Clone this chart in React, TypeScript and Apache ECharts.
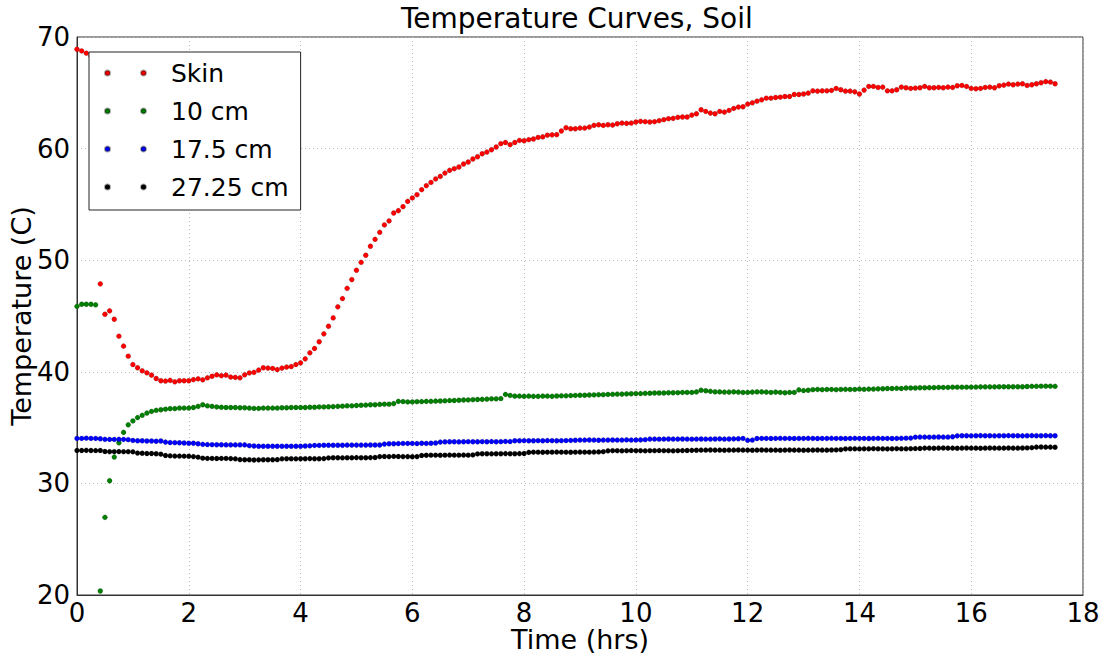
import React, { useEffect, useRef } from "react";
import * as echarts from "echarts";

// Sampling: one reading every 5 minutes, starting at t = 0 h
const START_HRS = 0;
const STEP_HRS = 5 / 60;

const seriesNames = ["Skin", "10 cm", "17.5 cm", "27.25 cm"];
const seriesColors = ["#ff0000", "#008000", "#0000ff", "#000000"];

const xTicks = [0, 2, 4, 6, 8, 10, 12, 14, 16, 18];
const yTicks = [20, 30, 40, 50, 60, 70];

const skin = [
  68.9, 68.75, 68.55, 68.3, 68.1,
  47.88, 45.16, 45.46, 44.71, 43.19, 42.3, 41.4, 40.65, 40.36, 40.09,
  39.91, 39.7, 39.4, 39.2, 39.17, 39.23, 39.1, 39.2, 39.2, 39.2,
  39.3, 39.37, 39.28, 39.46, 39.6, 39.73, 39.65, 39.7, 39.53, 39.5,
  39.46, 39.73, 39.9, 39.95, 40.15, 40.36, 40.33, 40.3, 40.2, 40.33,
  40.42, 40.47, 40.65,
  40.8, 41.16, 41.7, 42.09, 42.69, 43.4, 44.08, 44.83, 45.82, 46.56,
  47.48, 48.26, 49.1, 49.81, 50.44, 51.25, 51.87, 52.5, 53.16, 53.52,
  54.23, 54.44, 54.8, 55.27, 55.58, 55.87, 56.32, 56.68, 56.97, 57.28,
  57.51, 57.81, 58.05, 58.2, 58.35, 58.62, 58.8, 59.07, 59.27, 59.54,
  59.69, 59.9, 60.14, 60.44, 60.55, 60.35, 60.55, 60.73, 60.7, 60.8,
  60.86, 61.0,
  61.05, 61.2, 61.23, 61.25, 61.58, 61.87, 61.78, 61.78, 61.84, 61.84,
  61.93, 62.08, 62.14, 62.08, 62.14, 62.11, 62.23, 62.29, 62.26, 62.29,
  62.38, 62.44, 62.41, 62.38, 62.41, 62.5, 62.59, 62.68, 62.71, 62.8,
  62.83, 62.83, 63.0, 63.12, 63.48, 63.33, 63.18, 63.12, 63.33, 63.27,
  63.42, 63.6, 63.72, 63.75, 63.99, 64.1, 64.25, 64.37, 64.52, 64.52,
  64.58, 64.61, 64.67, 64.67, 64.85, 64.85,
  64.89, 64.97, 65.18, 65.15, 65.18, 65.18, 65.21, 65.39, 65.27, 65.15,
  65.15, 65.09, 64.89, 65.24, 65.57, 65.57, 65.48, 65.51, 65.18, 65.18,
  65.27, 65.51, 65.45, 65.39, 65.42, 65.45, 65.57, 65.45, 65.45, 65.48,
  65.45, 65.51, 65.48, 65.63, 65.66, 65.57, 65.39, 65.36, 65.39, 65.48,
  65.51, 65.45, 65.63, 65.69, 65.78, 65.72, 65.78, 65.81, 65.66, 65.72,
  65.81, 65.9, 66.0, 65.96, 65.81,
];

const cm10 = [
  45.87, 46.05, 46.05, 46.05, 46.0, 20.36, 26.96, 30.24, 32.36, 33.64,
  34.57, 35.25, 35.6, 35.9, 36.1, 36.3, 36.45, 36.55, 36.6, 36.65,
  36.7, 36.7, 36.75, 36.75, 36.75, 36.8, 36.9, 37.05, 36.95, 36.9,
  36.85, 36.82, 36.8, 36.8, 36.8, 36.78, 36.78, 36.75, 36.72, 36.72,
  36.75, 36.75, 36.75, 36.75, 36.78, 36.78, 36.8, 36.8,
  36.8, 36.8, 36.82, 36.82, 36.85, 36.85, 36.87, 36.88, 36.9, 36.92,
  36.95, 36.95, 36.98, 37.0, 37.02, 37.05, 37.05, 37.08, 37.1, 37.1,
  37.15, 37.35, 37.33, 37.3,
  37.3, 37.32, 37.33, 37.35, 37.35, 37.37, 37.38, 37.4, 37.42, 37.43,
  37.45, 37.47, 37.48, 37.5, 37.52, 37.53, 37.55, 37.58, 37.58,
  37.6, 37.97, 37.88, 37.82,
  37.82, 37.8, 37.82, 37.8, 37.8, 37.82, 37.82, 37.8, 37.83, 37.85,
  37.85, 37.87, 37.88, 37.9, 37.9, 37.92, 37.93, 37.95, 37.95, 37.97,
  37.98, 38.0, 38.0, 38.02, 38.03, 38.05, 38.05, 38.07, 38.08, 38.1,
  38.1, 38.1, 38.12, 38.12, 38.13, 38.15, 38.15, 38.15, 38.2,
  38.35, 38.3, 38.25, 38.2, 38.2, 38.18, 38.18, 38.2,
  38.18, 38.15, 38.15, 38.18, 38.2, 38.2, 38.18, 38.15, 38.18, 38.15,
  38.12, 38.15, 38.15, 38.38, 38.32, 38.35,
  38.4, 38.42, 38.4, 38.42, 38.42, 38.4, 38.42, 38.43, 38.42, 38.42,
  38.45, 38.43, 38.45, 38.45, 38.47, 38.48, 38.5, 38.5, 38.52, 38.5,
  38.55, 38.55, 38.55, 38.57, 38.57, 38.58, 38.58, 38.6, 38.6, 38.6,
  38.62, 38.62, 38.62, 38.62, 38.63, 38.63, 38.65, 38.65, 38.65, 38.65,
  38.66, 38.66, 38.66, 38.66, 38.66, 38.66,
  38.68, 38.7, 38.7, 38.71, 38.71, 38.71, 38.7,
];

const cm175 = [
  34.03, 34.03, 34.05, 34.03, 34.03, 34.0,
  33.95, 33.94, 33.94, 33.95, 33.94, 33.92,
  33.85, 33.82, 33.82, 33.8, 33.8, 33.78, 33.8,
  33.7, 33.66, 33.65, 33.64, 33.62, 33.6, 33.6,
  33.55, 33.5, 33.48, 33.47, 33.46, 33.46, 33.45, 33.45, 33.45, 33.45, 33.45,
  33.38, 33.35, 33.33, 33.33, 33.33, 33.33, 33.33, 33.33, 33.33, 33.33, 33.33, 33.33,
  33.35, 33.37, 33.4, 33.4, 33.42, 33.42, 33.42, 33.42, 33.42, 33.43, 33.43, 33.43,
  33.43, 33.43, 33.44, 33.44, 33.44,
  33.52, 33.55, 33.55, 33.57, 33.58, 33.58,
  33.58, 33.57, 33.6, 33.58, 33.6, 33.62,
  33.7, 33.72, 33.73, 33.73, 33.72, 33.73, 33.74, 33.73, 33.73, 33.74,
  33.73, 33.75, 33.73, 33.74, 33.76, 33.75,
  33.82, 33.82, 33.83, 33.82, 33.82, 33.83, 33.82, 33.84, 33.83, 33.82,
  33.83, 33.84, 33.85,
  33.87, 33.88, 33.88, 33.89, 33.88, 33.87, 33.88, 33.88, 33.89, 33.88,
  33.88, 33.9, 33.88, 33.89, 33.9, 33.92,
  33.97, 33.97, 33.96, 33.97, 33.98, 33.97, 33.97, 33.98, 33.97, 33.96,
  33.97, 33.98, 33.97, 33.97, 33.98, 33.99, 33.97, 33.98, 33.99, 34.0,
  34.03, 33.86, 33.88,
  34.02, 34.03, 34.03, 34.02, 34.03, 34.04, 34.03, 34.03, 34.02, 34.03,
  34.03, 34.04, 34.03, 34.02, 34.03, 34.03, 34.04, 34.03, 34.03, 34.02,
  34.03, 34.04, 34.03, 34.03, 34.02, 34.03, 34.04, 34.03, 34.03, 34.02,
  34.03, 34.04, 34.05, 34.06,
  34.14, 34.15, 34.15, 34.14, 34.15, 34.16, 34.15, 34.15, 34.18,
  34.26, 34.27, 34.27, 34.26, 34.27, 34.28, 34.27, 34.27, 34.26, 34.27,
  34.27, 34.28, 34.27, 34.27, 34.26, 34.27, 34.28, 34.27, 34.27, 34.28,
  34.27, 34.27,
];

const cm2725 = [
  32.95, 32.95, 32.96, 32.95, 32.94, 32.95,
  32.86, 32.84, 32.84, 32.85, 32.84, 32.84, 32.83,
  32.72, 32.7, 32.68, 32.68, 32.66, 32.62,
  32.5, 32.47, 32.45, 32.45, 32.44, 32.43, 32.4, 32.35,
  32.26, 32.24, 32.24, 32.23, 32.24, 32.24, 32.22, 32.2,
  32.13, 32.12, 32.12, 32.1, 32.11, 32.12, 32.12, 32.12, 32.13,
  32.2, 32.21, 32.21, 32.2, 32.21, 32.21, 32.22, 32.21, 32.21, 32.22,
  32.28, 32.3, 32.3, 32.29, 32.3, 32.3, 32.31, 32.3, 32.3, 32.31, 32.32,
  32.4, 32.41, 32.4, 32.42, 32.41, 32.4, 32.4, 32.39, 32.4,
  32.5, 32.52, 32.53, 32.53, 32.52, 32.53, 32.54, 32.53, 32.53, 32.54, 32.53, 32.55,
  32.64, 32.66, 32.66, 32.65, 32.66, 32.66, 32.67, 32.66, 32.66, 32.67, 32.68,
  32.78, 32.8, 32.8, 32.79, 32.8, 32.8, 32.81, 32.8, 32.8, 32.79,
  32.8, 32.81, 32.8, 32.8, 32.81, 32.82, 32.84,
  32.92, 32.93, 32.93, 32.92, 32.93, 32.94, 32.93, 32.93, 32.92, 32.93,
  32.93, 32.94, 32.93, 32.93, 32.92, 32.93, 32.94, 32.95, 32.96,
  32.97, 32.98, 32.98, 32.99, 32.98, 32.98, 32.97, 32.98, 32.98, 32.99,
  32.98, 32.98, 32.97, 32.98, 32.99, 32.98, 32.98, 32.98, 32.97, 32.98,
  32.99, 32.98, 32.98, 32.97, 32.98, 32.98, 32.99, 32.98, 32.98, 32.99,
  33.0, 33.02,
  33.09, 33.1, 33.1, 33.09, 33.1, 33.1, 33.11, 33.1, 33.1, 33.09,
  33.1, 33.11, 33.1, 33.1, 33.11, 33.12, 33.13,
  33.16, 33.16, 33.15, 33.16, 33.17, 33.16, 33.16, 33.15, 33.16, 33.17,
  33.16, 33.16, 33.15, 33.16, 33.17, 33.16, 33.16, 33.16, 33.17, 33.16,
  33.16, 33.17, 33.18, 33.2,
  33.25, 33.26, 33.25, 33.25, 33.24,
];

const allValues = [skin, cm10, cm175, cm2725];

const FONT = "DejaVu Sans";

export default function App() {
  const ref = useRef<HTMLDivElement>(null);

  useEffect(() => {
    if (!ref.current) return;
    const chart = echarts.init(ref.current, undefined, { renderer: "svg" });

    const legendIcon =
      "path://M0,2.5 A2.5,2.5 0 1 1 5,2.5 A2.5,2.5 0 1 1 0,2.5 Z M36,2.5 A2.5,2.5 0 1 1 41,2.5 A2.5,2.5 0 1 1 36,2.5 Z";

    const series = allValues.map((vals, k) => ({
      name: seriesNames[k],
      type: "scatter",
      symbol: "circle",
      symbolSize: 5,
      itemStyle: {
        color: seriesColors[k],
        borderColor: "rgba(0,0,0,0.35)",
        borderWidth: 0.5,
        opacity: 1,
      },
      data: vals.map((v, i) => [START_HRS + i * STEP_HRS, v]),
      z: 2,
    }));

    chart.setOption({
      animation: false,
      backgroundColor: "#ffffff",
      textStyle: { fontFamily: FONT },
      title: {
        text: "Temperature Curves, Soil",
        left: 401,
        top: 4,
        padding: 0,
        textStyle: { fontFamily: FONT, fontSize: 28, fontWeight: "normal", color: "#000" },
      },
      grid: {
        left: 77,
        right: 21,
        top: 37,
        bottom: 61,
        show: true,
        borderColor: "#333",
        borderWidth: 1,
        backgroundColor: "transparent",
        containLabel: false,
        outerBoundsMode: "none",
      },
      legend: {
        data: seriesNames.map((n) => ({ name: n, icon: legendIcon })),
        orient: "vertical",
        left: 89,
        top: 52,
        itemWidth: 41,
        itemHeight: 5,
        itemGap: 10,
        padding: [7, 12, 9, 15],
        backgroundColor: "#ffffff",
        borderColor: "#222",
        borderWidth: 1,
        borderRadius: 0,
        selectedMode: false,
        z: 10,
        textStyle: {
          fontFamily: FONT,
          fontSize: 25,
          lineHeight: 28,
          color: "#000",
          padding: [0, 0, 0, 20],
        },
      },
      xAxis: {
        type: "value",
        min: xTicks[0],
        max: xTicks[xTicks.length - 1],
        interval: xTicks[1] - xTicks[0],
        name: "Time (hrs)",
        nameLocation: "middle",
        nameGap: 31,
        nameMoveOverlap: false,
        nameTextStyle: { fontFamily: FONT, fontSize: 27, color: "#000" },
        axisLine: { show: true, lineStyle: { color: "#333", width: 1 } },
        axisTick: { show: false },
        axisLabel: { fontFamily: FONT, fontSize: 26, color: "#000", margin: 5 },
        splitLine: { show: true, lineStyle: { color: "#bbb", width: 1, type: [1, 3] } },
      },
      yAxis: {
        type: "value",
        min: yTicks[0],
        max: yTicks[yTicks.length - 1],
        interval: yTicks[1] - yTicks[0],
        name: "Temperature (C)",
        nameLocation: "middle",
        nameGap: 42,
        nameMoveOverlap: false,
        nameTextStyle: { fontFamily: FONT, fontSize: 27, color: "#000" },
        axisLine: { show: true, lineStyle: { color: "#333", width: 1 } },
        axisTick: { show: false },
        axisLabel: { fontFamily: FONT, fontSize: 26, color: "#000", margin: 7 },
        splitLine: { show: true, lineStyle: { color: "#bbb", width: 1, type: [1, 3] } },
      },
      series,
    });

    return () => chart.dispose();
  }, []);

  return (
    <div
      ref={ref}
      style={{ position: "fixed", left: 0, top: 0, width: 1104, height: 656, background: "#fff" }}
    />
  );
}
